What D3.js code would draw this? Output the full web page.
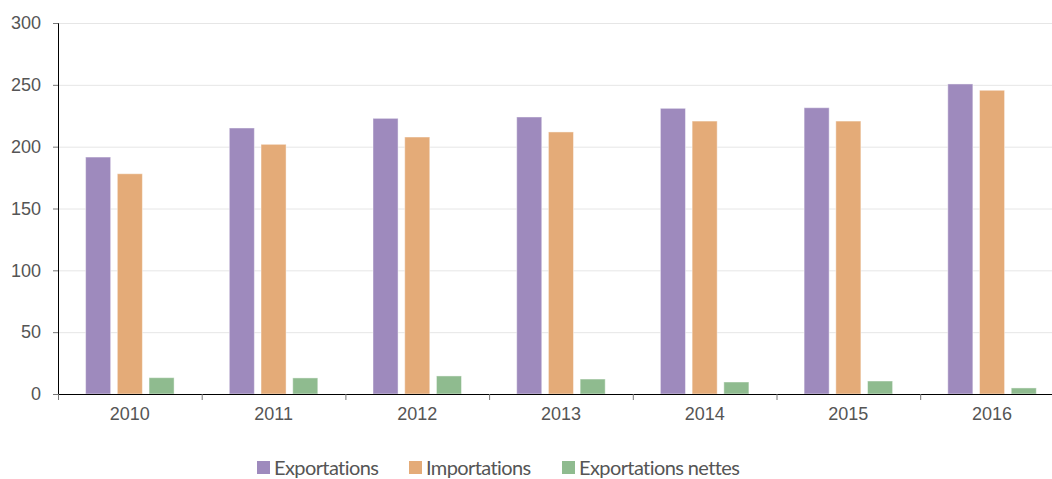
<!DOCTYPE html>
<html>
<head>
<meta charset="utf-8">
<script src="https://cdn.jsdelivr.net/npm/d3@7"></script>
<style>
  body { margin: 0; background: #fff; }
  .tick text { font-family: "Liberation Sans", Arial, sans-serif; font-size: 18px; fill: #555; }
  .legend-label { font-family: Lato, sans-serif; font-size: 20px; fill: #555; letter-spacing: -0.6px; }
</style>
</head>
<body>
<div id="chart"></div>
<script>
// Data
const years = ["2010", "2011", "2012", "2013", "2014", "2015", "2016"];
const seriesNames = ["Exportations", "Importations", "Exportations nettes"];
const exportations = [191.6, 215.1, 222.9, 224.0, 231.0, 231.5, 250.7];
const importations = [178.1, 201.9, 207.8, 211.9, 220.7, 220.7, 245.6];
const exportationsNettes = [13.2, 13.0, 14.6, 12.1, 9.7, 10.5, 4.9];
const yTicks = [0, 50, 100, 150, 200, 250, 300];

const values = [exportations, importations, exportationsNettes];

// Set chart dimensions
const width = 1052, height = 479;
const margin = { top: 23, left: 58, bottom: 85 };
const bandW = 143.7;

const svg = d3.select("#chart")
  .append("svg")
  .attr("width", width)
  .attr("height", height);

const color = d3.scaleOrdinal()
  .domain(seriesNames)
  .range(["#9e8abd", "#e4ab78", "#8fbb8f"]);

const x0 = d3.scaleBand()
  .domain(years)
  .range([margin.left, margin.left + bandW * years.length])
  .padding(0);

const x1 = d3.scaleBand()
  .domain(seriesNames)
  .range([0, x0.bandwidth()])
  .paddingInner(0.21)
  .paddingOuter(0.87);

const y = d3.scaleLinear()
  .domain([0, 300])
  .range([height - margin.bottom, margin.top]);

// gridlines
svg.append("g")
  .selectAll("line")
  .data(yTicks)
  .join("line")
  .attr("x1", margin.left)
  .attr("x2", width)
  .attr("y1", d => y(d) + 0.5)
  .attr("y2", d => y(d) + 0.5)
  .style("stroke", "#e6e6e6")
  .style("stroke-width", 1);

// bars
const groups = svg.append("g")
  .selectAll("g")
  .data(years)
  .join("g")
  .attr("transform", d => `translate(${x0(d)},0)`);

groups.selectAll("rect")
  .data((d, i) => seriesNames.map((s, j) => ({ key: s, value: values[j][i] })))
  .join("rect")
  .attr("x", d => x1(d.key))
  .attr("y", d => y(d.value))
  .attr("width", x1.bandwidth())
  .attr("height", d => y(0) - y(d.value))
  .style("fill", d => color(d.key))
  .style("stroke", "#fff")
  .style("stroke-opacity", 0.45)
  .style("stroke-width", 1);

// y axis
const yAxis = svg.append("g")
  .attr("transform", `translate(${margin.left},0)`)
  .call(d3.axisLeft(y).tickValues(yTicks).tickSize(5).tickPadding(12));
yAxis.select(".domain").style("stroke", "#000");
yAxis.selectAll(".tick line").style("stroke", "#777");

// x axis
const xAxis = svg.append("g")
  .attr("transform", `translate(0,${y(0)})`)
  .call(d3.axisBottom(x0).tickSize(0).tickPadding(12));
xAxis.select(".domain").style("stroke", "#000");
xAxis.selectAll(".tick text").attr("dy", "0.8em");

// separators between categories
svg.append("g")
  .selectAll("line")
  .data(years)
  .join("line")
  .attr("x1", d => x0(d) + 0.5)
  .attr("x2", d => x0(d) + 0.5)
  .attr("y1", y(0))
  .attr("y2", y(0) + 6)
  .style("stroke", "#777");

// legend
const legendX = [257, 409, 562];
const legend = svg.append("g")
  .attr("transform", "translate(0,461)");

legend.selectAll("rect")
  .data(seriesNames)
  .join("rect")
  .attr("x", (d, i) => legendX[i])
  .attr("y", 0)
  .attr("width", 13)
  .attr("height", 13)
  .style("fill", color);

legend.selectAll("text")
  .data(seriesNames)
  .join("text")
  .attr("class", "legend-label")
  .attr("x", (d, i) => legendX[i] + 17)
  .attr("y", 14)
  .text(d => d);
</script>
</body>
</html>
